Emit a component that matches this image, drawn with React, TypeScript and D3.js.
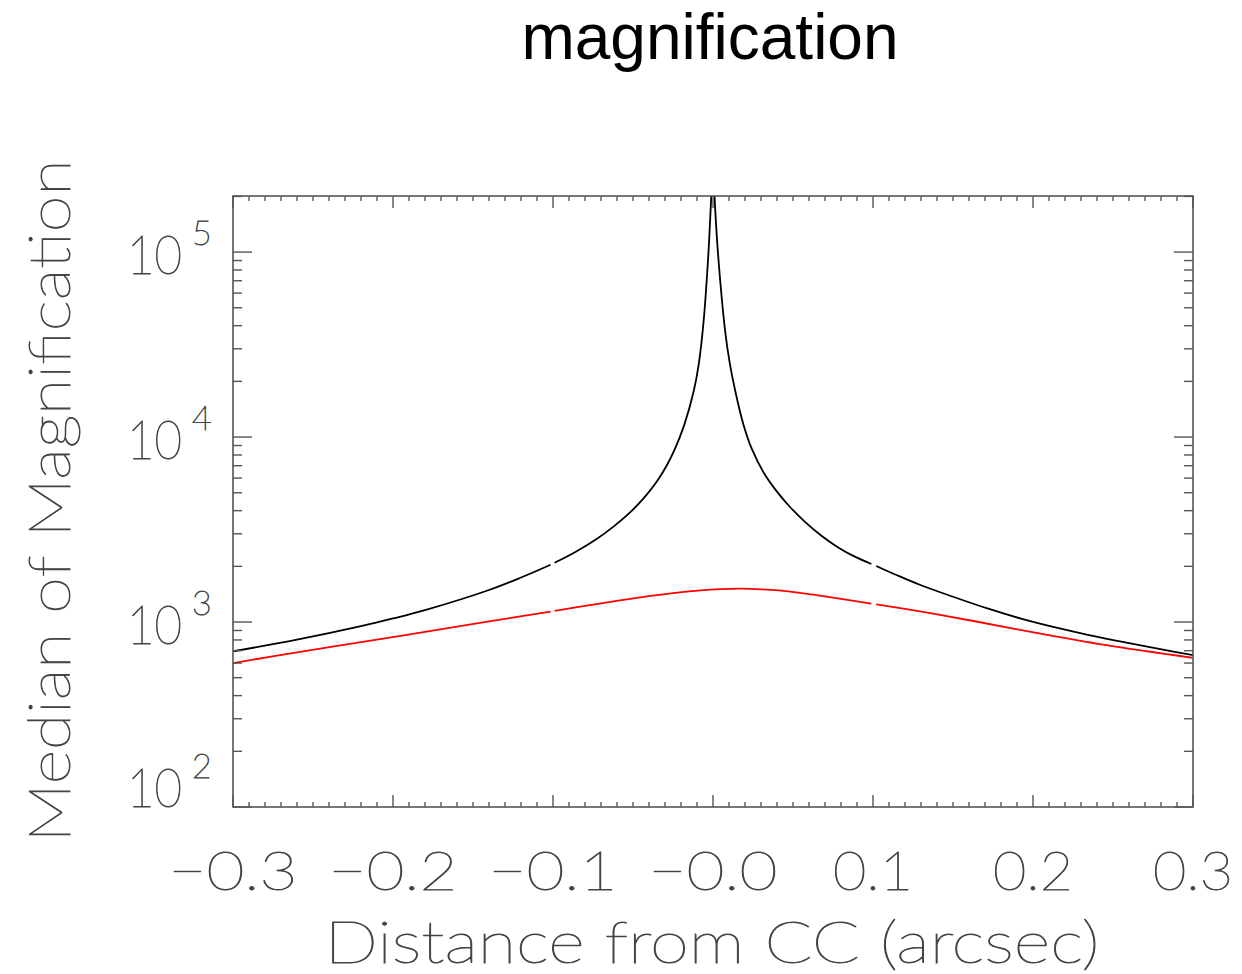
import React from 'react';
import * as d3 from 'd3';

// Distance from critical curve (arcsec) and median magnification, black (all) series
const blackX = [-0.3, -0.26, -0.22, -0.2, -0.18, -0.14, -0.12, -0.1015, NaN, -0.099, -0.086, -0.073, -0.062, -0.052, -0.043, -0.035, -0.029, -0.024, -0.018, -0.012, -0.009, -0.006, -0.003, -0.0014, 0, 0.0013, 0.0033, 0.0075, 0.0105, 0.0138, 0.019, 0.0242, 0.032, 0.039, 0.048, 0.058, 0.068, 0.078, 0.088, 0.099, NaN, 0.102, 0.115, 0.13, 0.15, 0.172, 0.193, 0.214, 0.235, 0.256, 0.278, 0.3];
const blackY = [695, 803, 950, 1045, 1160, 1490, 1740, 2040, NaN, 2090, 2390, 2800, 3290, 3900, 4700, 5770, 7000, 8550, 11600, 17800, 24500, 41000, 94000, 175000, 300000, 175000, 94000, 38000, 25000, 17900, 11700, 8650, 6350, 5200, 4200, 3450, 2920, 2540, 2270, 2060, NaN, 2010, 1790, 1580, 1370, 1180, 1040, 935, 850, 780, 718, 662];

// red series
const redX = [-0.3, -0.26, -0.22, -0.18, -0.14, -0.1015, NaN, -0.099, -0.07, -0.055, -0.039, -0.025, -0.008, 0.005, 0.017, 0.03, 0.047, 0.062, 0.078, 0.099, NaN, 0.102, 0.12, 0.141, 0.162, 0.203, 0.245, 0.3];
const redY = [600, 686, 778, 885, 1007, 1138, NaN, 1148, 1262, 1321, 1384, 1432, 1483, 1507, 1514, 1503, 1466, 1409, 1343, 1256, NaN, 1245, 1178, 1096, 1016, 871, 752, 640];

const xTicks = [-0.3, -0.2, -0.1, 0, 0.1, 0.2, 0.3];
const xTickLabels = ['\u22120.3', '\u22120.2', '\u22120.1', '\u22120.0', '0.1', '0.2', '0.3'];
const yTickExps = [2, 3, 4, 5];

const title = 'magnification';
const xTitle = 'Distance from CC (arcsec)';
const yTitle = 'Median of Magnification';

export default function App() {
  const W = 1242, H = 974;
  const L = 233, R = 1193, T = 196, B = 807;
  const x = d3.scaleLinear().domain([-0.3, 0.3]).range([L, R]);
  const y = d3.scaleLog().domain([100, 2.01e5]).range([B, T]);
  const line = d3
    .line<[number, number]>()
    .defined(d => !isNaN(d[0]) && !isNaN(d[1]))
    .x(d => x(d[0]))
    .y(d => y(d[1]))
    .curve(d3.curveCatmullRom.alpha(0.5));

  const blackPts = blackX.map((v, i) => [v, blackY[i]] as [number, number]);
  const redPts = redX.map((v, i) => [v, redY[i]] as [number, number]);

  const axisColor = '#555';
  const textColor = '#444';
  const font = "Lato, 'DejaVu Sans', sans-serif";
  const fw = 200;
  const txt = { fontFamily: font, fontWeight: fw, fill: textColor, stroke: textColor, strokeWidth: 0.9 } as const;

  const xMinor = d3.range(-30, 31).filter(i => i % 10 !== 0).map(i => i / 100);
  const yMinor: number[] = [];
  for (const k of [2, 3, 4, 5]) {
    for (let m = 2; m <= 9; m++) {
      const v = m * Math.pow(10, k);
      if (v < 2.01e5) yMinor.push(v);
    }
  }

  return (
    <svg width={W} height={H} style={{ position: 'absolute', left: 0, top: 0, background: '#fff' }}>
      <defs>
        <clipPath id="plotClip">
          <rect x={L} y={T} width={R - L} height={B - T} />
        </clipPath>
      </defs>
      <rect x={0} y={0} width={W} height={H} fill="#fff" />
      <text x={710} y={59} textAnchor="middle" fontFamily="'Liberation Sans', Arial, sans-serif" fontSize={64} fill="#000">
        {title}
      </text>

      {/* lines */}
      <g clipPath="url(#plotClip)">
        <path d={line(redPts) || ''} fill="none" stroke="#ff0000" strokeWidth={1.8} />
        <path d={line(blackPts) || ''} fill="none" stroke="#000" strokeWidth={1.8} />
      </g>

      {/* frame */}
      <rect x={L} y={T} width={R - L} height={B - T} fill="none" stroke={axisColor} strokeWidth={1.6} />

      {/* x ticks */}
      {xTicks.map(t => (
        <g key={'xt' + t}>
          <line x1={x(t)} x2={x(t)} y1={B} y2={B - 12} stroke={axisColor} strokeWidth={1.4} />
          <line x1={x(t)} x2={x(t)} y1={T} y2={T + 12} stroke={axisColor} strokeWidth={1.4} />
        </g>
      ))}
      {xMinor.map(t => (
        <g key={'xm' + t}>
          <line x1={x(t)} x2={x(t)} y1={B} y2={B - 5} stroke={axisColor} strokeWidth={1.4} />
          <line x1={x(t)} x2={x(t)} y1={T} y2={T + 5} stroke={axisColor} strokeWidth={1.4} />
        </g>
      ))}
      {xTicks.map((t, i) => (
        <text
          key={'xl' + t}
          x={x(t)}
          y={890}
          textAnchor="middle"
          {...txt}
          fontSize={53}
          textLength={xTickLabels[i].length === 4 ? 129 : 80}
          lengthAdjust="spacingAndGlyphs"
        >
          {xTickLabels[i]}
        </text>
      ))}

      {/* y ticks */}
      {yTickExps.map(k => {
        const yy = y(Math.pow(10, k));
        return (
          <g key={'yt' + k}>
            <line x1={L} x2={L + 19} y1={yy} y2={yy} stroke={axisColor} strokeWidth={1.4} />
            <line x1={R} x2={R - 19} y1={yy} y2={yy} stroke={axisColor} strokeWidth={1.4} />
          </g>
        );
      })}
      {yMinor.map(v => (
        <g key={'ym' + v}>
          <line x1={L} x2={L + 9} y1={y(v)} y2={y(v)} stroke={axisColor} strokeWidth={1.4} />
          <line x1={R} x2={R - 9} y1={y(v)} y2={y(v)} stroke={axisColor} strokeWidth={1.4} />
        </g>
      ))}
      {yTickExps.map(k => {
        const yy = y(Math.pow(10, k));
        const base = Math.min(yy + 22, B);
        return (
          <g key={'yl' + k}>
            <text x={127} y={base} {...txt} fontSize={54} textLength={55} lengthAdjust="spacingAndGlyphs">
              10
            </text>
            <text x={192} y={base - 29} {...txt} fontSize={34}>
              {String(k)}
            </text>
          </g>
        );
      })}

      {/* axis titles */}
      <text x={712} y={963} textAnchor="middle" {...txt} fontSize={57} textLength={775} lengthAdjust="spacingAndGlyphs">
        {xTitle}
      </text>
      <text
        transform={`translate(70, 501) rotate(-90)`}
        x={0}
        y={0}
        textAnchor="middle"
        {...txt}
        fontSize={58}
        textLength={683}
        lengthAdjust="spacingAndGlyphs"
      >
        {yTitle}
      </text>
    </svg>
  );
}
